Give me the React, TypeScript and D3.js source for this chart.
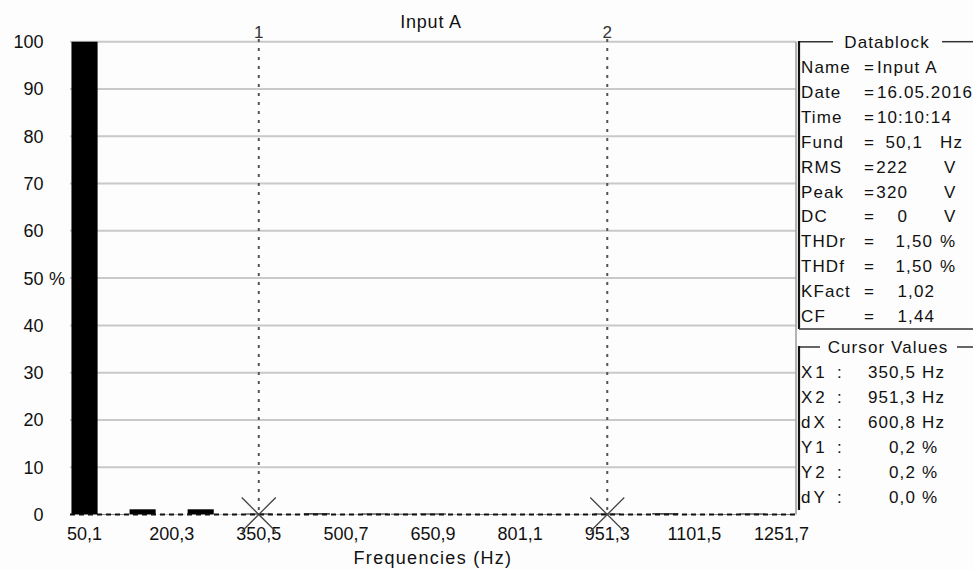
import React from 'react'
import { scaleLinear } from 'd3'

// harmonic spectrum, % of fundamental
const fundamentalHz = 50.0667
const harmonicOrders = [1, 2, 3, 4, 5, 6, 7, 8, 9, 10, 11, 12, 13, 14, 15, 16, 17, 18, 19, 20, 21, 22, 23, 24, 25]
const harmonicPercent = [100, 0.1, 1.1, 0.05, 1.1, 0.05, 0.2, 0.05, 0.25, 0.05, 0.2, 0.15, 0.2, 0.05, 0.1, 0.05, 0.1, 0.05, 0.2, 0.05, 0.25, 0.05, 0.1, 0.2, 0.1]

const xTickHz = [50.1, 200.3, 350.5, 500.7, 650.9, 801.1, 951.3, 1101.5, 1251.7]
const yTicks = [0, 10, 20, 30, 40, 50, 60, 70, 80, 90, 100]

const cursorNames = ['1', '2']
const cursorHz = [350.5, 951.3]

const dataLabels = ['Name', 'Date', 'Time', 'Fund', 'RMS', 'Peak', 'DC', 'THDr', 'THDf', 'KFact', 'CF']
const dataValues = ['Input A', '16.05.2016', '10:10:14', '50,1', '222', '320', '0', '1,50', '1,50', '1,02', '1,44']
const dataUnits = ['', '', '', 'Hz', 'V', 'V', 'V', '%', '%', '', '']

const cursorLabels = ['X1', 'X2', 'dX', 'Y1', 'Y2', 'dY']
const cursorValues = ['350,5', '951,3', '600,8', '0,2', '0,2', '0,0']
const cursorUnits = ['Hz', 'Hz', 'Hz', '%', '%', '%']

const fmt = (v: number) => v.toFixed(1).replace('.', ',')

const App = () => {
  const width = 973
  const height = 570
  const plot = { left: 70, right: 796, top: 41.7, bottom: 514.5 }
  const font = 'Liberation Sans, Arial, sans-serif'

  const xScale = scaleLinear()
    .domain([0.5 * fundamentalHz, 25.5 * fundamentalHz])
    .range([plot.left, plot.right])
  const yScale = scaleLinear()
    .domain([0, 100])
    .range([plot.bottom, plot.top])

  const band = xScale(2 * fundamentalHz) - xScale(fundamentalHz)
  const barW = band * 0.9

  const panelX = 799
  const rowY = (i: number) => 73 + i * 24.9
  const curY = (i: number) => 378 + i * 24.9
  const valueRight = (u: string) => (u === 'Hz' ? 923 : u === 'V' ? 908 : u === '%' ? 933 : 935)
  const unitX = (u: string) => (u === 'V' ? 944 : 940)

  return (
    <svg width={width} height={height}
      style={{ position: 'absolute', left: 0, top: 0, background: '#fdfdfd', fontFamily: font }}>
      <text x={431} y={28} textAnchor='middle' fontSize={18} fill='#111' style={{ letterSpacing: '0.8px' }}>Input A</text>

      {/* grid */}
      {yTicks.filter(t => t > 0).map(t => (
        <line key={t} x1={plot.left} x2={plot.right} y1={yScale(t)} y2={yScale(t)} stroke='#c9c9c9' strokeWidth={2} />
      ))}
      <line x1={plot.right} x2={plot.right} y1={plot.top} y2={plot.bottom} stroke='#9a9a9a' strokeWidth={1.5} />

      {/* bars */}
      {harmonicOrders.map((n, i) => (
        <rect key={n}
          x={xScale(n * fundamentalHz) - barW / 2}
          y={yScale(harmonicPercent[i])}
          width={barW}
          height={yScale(0) - yScale(harmonicPercent[i])}
          fill='#000' />
      ))}

      <line x1={plot.left} x2={plot.right} y1={plot.bottom} y2={plot.bottom} stroke='#111' strokeWidth={2} strokeDasharray='5,4' />

      {/* y axis */}
      {yTicks.map(t => (
        <text key={t} x={43.5} y={yScale(t) + 6.5} textAnchor='end' fontSize={18} fill='#111'>{t}</text>
      ))}
      <text x={49} y={yScale(50) + 6.5} fontSize={18} fill='#111'>%</text>

      {/* x axis */}
      {xTickHz.map(t => (
        <text key={t} x={xScale(t)} y={540} textAnchor='middle' fontSize={18} fill='#111'>{fmt(t)}</text>
      ))}
      <text x={433} y={564} textAnchor='middle' fontSize={18} fill='#111' style={{ letterSpacing: '1.3px' }}>Frequencies (Hz)</text>

      {/* cursors */}
      {cursorHz.map((f, i) => {
        const cx = xScale(f)
        return (
          <g key={f}>
            <line x1={cx} x2={cx} y1={39} y2={plot.bottom} stroke='#555' strokeWidth={2} strokeDasharray='3,6' />
            <text x={cx} y={38} textAnchor='middle' fontSize={17} fill='#333'>{cursorNames[i]}</text>
            <line x1={cx - 17} x2={cx + 17} y1={plot.bottom - 17} y2={plot.bottom + 17} stroke='#444' strokeWidth={1.3} />
            <line x1={cx - 17} x2={cx + 17} y1={plot.bottom + 17} y2={plot.bottom - 17} stroke='#444' strokeWidth={1.3} />
          </g>
        )
      })}

      {/* datablock panel */}
      <g fontSize={17} fill='#111' style={{ letterSpacing: '1.1px' }}>
        <line x1={panelX} x2={833} y1={41.7} y2={41.7} stroke='#333' strokeWidth={1.5} />
        <text x={887} y={48} textAnchor='middle'>Datablock</text>
        <line x1={942} x2={width} y1={41.7} y2={41.7} stroke='#333' strokeWidth={1.5} />
        <line x1={panelX} x2={panelX} y1={41} y2={329} stroke='#111' strokeWidth={2.2} />
        <line x1={panelX} x2={width} y1={329} y2={329} stroke='#333' strokeWidth={1.5} />
        {dataLabels.map((l, i) => (
          <g key={l}>
            <text x={801} y={rowY(i)}>{l}</text>
            <text x={864} y={rowY(i)}>=</text>
            {dataUnits[i] === '' && i < 3
              ? <text x={877} y={rowY(i)}>{dataValues[i]}</text>
              : <text x={valueRight(dataUnits[i])} y={rowY(i)} textAnchor='end'>{dataValues[i]}</text>}
            {dataUnits[i] !== '' && <text x={unitX(dataUnits[i])} y={rowY(i)}>{dataUnits[i]}</text>}
          </g>
        ))}

        <line x1={panelX} x2={820} y1={347} y2={347} stroke='#333' strokeWidth={1.5} />
        <text x={888} y={353} textAnchor='middle'>Cursor Values</text>
        <line x1={957} x2={width} y1={347} y2={347} stroke='#333' strokeWidth={1.5} />
        <line x1={panelX} x2={panelX} y1={346} y2={510} stroke='#111' strokeWidth={2.2} />
        {cursorLabels.map((l, i) => (
          <g key={l}>
            <text x={801} y={curY(i)} style={{ letterSpacing: '3px' }}>{l}</text>
            <text x={837} y={curY(i)}>:</text>
            <text x={916} y={curY(i)} textAnchor='end'>{cursorValues[i]}</text>
            <text x={922} y={curY(i)}>{cursorUnits[i]}</text>
          </g>
        ))}
      </g>
    </svg>
  )
}

export default App
